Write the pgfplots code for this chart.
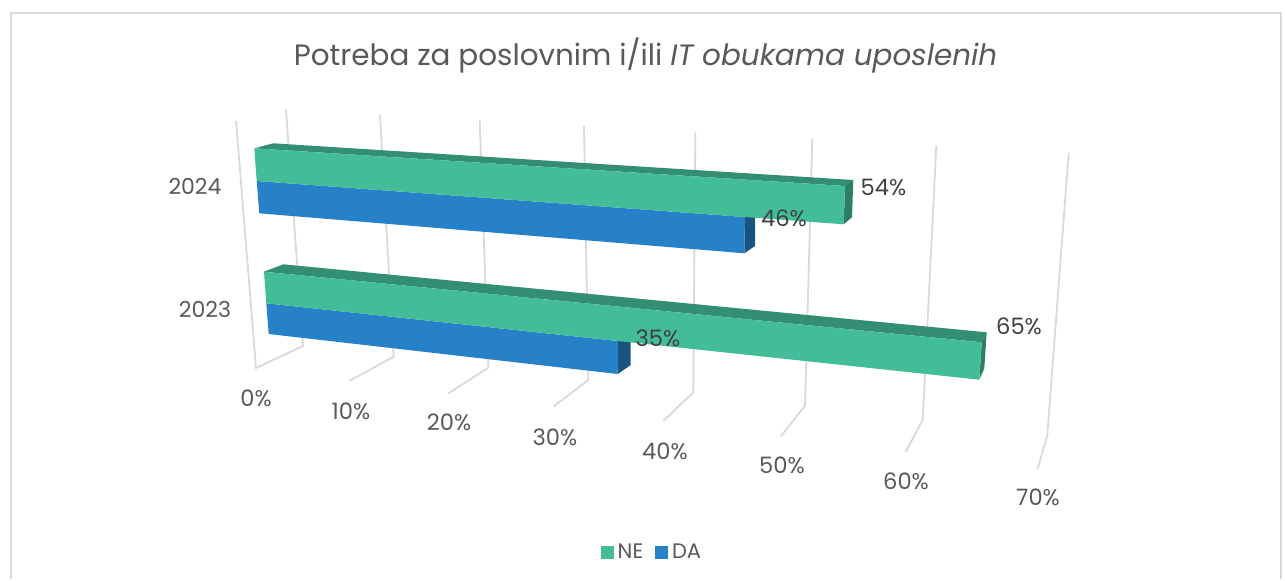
\documentclass[border=0pt]{standalone}
\usepackage{fontspec}
\setmainfont{Poppins}
\usepackage{pgfplots}
\usepackage{pgfplotstable}
\pgfplotsset{compat=1.18}

\definecolor{gridc}{HTML}{D9D9D9}
\definecolor{textc}{HTML}{595959}
\definecolor{labc}{HTML}{404040}
\definecolor{greenf}{HTML}{42BD98}
\definecolor{greent}{HTML}{338E73}
\definecolor{greens}{HTML}{2E7E66}
\definecolor{bluef}{HTML}{2681C8}
\definecolor{blues}{HTML}{175482}

% data labels: position on the drawing, value in percent
\pgfplotstableread{
x y val
883.5 187 54
784 218 46
1019 326 65
658 338 35
}\datalabels

% axis tick labels
\pgfplotstableread{
x y lab
256 398 0
351 411 10
449 422 20
555 437 30
665 451 40
782 465 50
906 481 60
1038 497 70
}\ticklabels

\pgfplotstableread{
x y lab
195 186 2024
205 309 2023
}\catlabels

\begin{document}
\begin{tikzpicture}
\begin{axis}[
    hide axis, clip=false,
    scale only axis,
    width=642.5pt, height=289.5pt,
    xmin=0, xmax=1285, ymin=0, ymax=579,
    y dir=reverse,
    legend columns=2,
    legend cell align=left,
    legend style={at={(axis cs:653,552.5)}, anchor=center, draw=none, fill=none,
        font=\fontsize{10.5}{12}\selectfont, text=textc, inner sep=0pt,
        /tikz/every even column/.append style={column sep=4pt}},
    legend image code/.code={\fill[#1] (0pt,-3pt) rectangle (6pt,3pt);},
    every node near coord/.append style={anchor=center, inner sep=0pt},
]
\addlegendimage{greenf}\addlegendentry{NE}
\addlegendimage{bluef}\addlegendentry{DA}

% keeps the whole canvas in the page
\addplot[draw=none] coordinates {(0,0)(1285,579)};

% frame
\addplot[gridc, line width=1pt] coordinates {(10.5,579)(10.5,13)(1281,13)(1281,579)};

% walls and floor
\addplot[gridc, line width=0.9pt] coordinates {(236,121)(256,368)(303,346)(286,110)};
\addplot[gridc, line width=0.9pt] coordinates {(380,115)(393.7,356.7)(349.3,381)};
\addplot[gridc, line width=0.9pt] coordinates {(479.7,120)(488.3,367.7)(448.3,393.3)};
\addplot[gridc, line width=0.9pt] coordinates {(584,126)(588.3,380)(553.3,406.7)};
\addplot[gridc, line width=0.9pt] coordinates {(695.3,132.3)(693.3,392.3)(663.3,421)};
\addplot[gridc, line width=0.9pt] coordinates {(812.3,138.7)(805,405.7)(781,436)};
\addplot[gridc, line width=0.9pt] coordinates {(936.3,145.3)(922.7,420)(905.7,452)};
\addplot[gridc, line width=0.9pt] coordinates {(1068.7,152.7)(1047.3,435)(1037.7,468.7)};

% 2024
\addplot[fill=blues, draw=none] coordinates {(745,217)(755,210)(755,246)(744.3,253.3)};
\addplot[fill=bluef, draw=none] coordinates {(256.7,181)(745,217)(744.3,253.3)(259.3,213.3)};
\addplot[fill=greent, draw=none] coordinates {(254.3,148.3)(273.3,143.3)(853.3,180)(845,186)};
\addplot[fill=greens, draw=none] coordinates {(845,186)(853.3,180)(852,217.3)(843.7,224.3)};
\addplot[fill=greenf, draw=none] coordinates {(254.3,148.3)(845,186)(843.7,224.3)(256.7,181)};

% 2023
\addplot[fill=blues, draw=none] coordinates {(618,341)(630.7,333)(630.7,365)(617.7,374)};
\addplot[fill=bluef, draw=none] coordinates {(266.3,303.3)(618,341)(617.7,374)(268.7,334)};
\addplot[fill=greent, draw=none] coordinates {(264,271.7)(283.3,264.3)(986.7,332.3)(981.7,342.3)};
\addplot[fill=greens, draw=none] coordinates {(981.7,342.3)(986.7,332.3)(984.3,368.3)(979.3,379.7)};
\addplot[fill=greenf, draw=none] coordinates {(264,271.7)(981.7,342.3)(979.3,379.7)(266.3,303.3)};

% labels
\addplot[only marks, mark=none, point meta=explicit symbolic,
    nodes near coords={\pgfplotspointmeta\%},
    every node near coord/.append style={font=\fontsize{11.3}{12}\selectfont, text=labc}]
    table[x=x, y=y, meta=val] {\datalabels};
\addplot[only marks, mark=none, point meta=explicit symbolic,
    nodes near coords={\pgfplotspointmeta\%},
    every node near coord/.append style={font=\fontsize{11.3}{12}\selectfont, text=textc}]
    table[x=x, y=y, meta=lab] {\ticklabels};
\addplot[only marks, mark=none, point meta=explicit symbolic,
    nodes near coords={\pgfplotspointmeta},
    every node near coord/.append style={font=\fontsize{11}{12}\selectfont, text=textc}]
    table[x=x, y=y, meta=lab] {\catlabels};

\node[font=\fontsize{14.72}{18}\selectfont, text=textc, inner sep=0pt] at (axis cs:645.5,55)
    {Potreba za poslovnim i/ili \textit{IT obukama uposlenih}};
\end{axis}
\end{tikzpicture}
\end{document}
